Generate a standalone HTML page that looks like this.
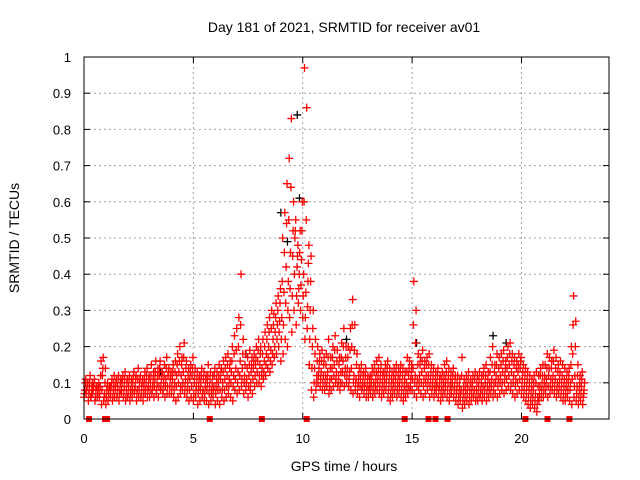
<!DOCTYPE html>
<html><head><meta charset="utf-8"><style>
html,body{margin:0;padding:0;background:#fff}
svg{display:block;font-family:"Liberation Sans",sans-serif}
</style></head><body>
<svg id="chart" width="640" height="480">
<text x="344" y="32" font-size="14" text-anchor="middle">Day 181 of 2021, SRMTID for receiver av01</text>
<text x="0" y="0" font-size="14" text-anchor="middle" transform="translate(19,238) rotate(-90)">SRMTID / TECUs</text>
<text x="344" y="471" font-size="14" text-anchor="middle">GPS time / hours</text>
<g id="grid"></g>
<g id="ticks"></g>
<g id="blk"></g>
<g id="red"></g>
<g id="gaps"></g>
<rect x="84" y="57" width="525" height="362" fill="none" stroke="#000" stroke-width="1"/>
</svg>
<script>
// values in hundredths of TECU, one per 0.1 h starting at 0 h
const stepHours = 0.1;
const loVals = [6,7,5,6,7,5,6,6,4,5, 4,5,6,5,6,6,5,7,6,5, 6,5,6,7,5,6,6,5,7,6, 6,7,6,7,6,8,7,6,7,7, 7,6,5,6,7,8,7,6,5,6, 5,6,4,5,6,5,5,4,5,6, 4,5,4,6,5,6,7,6,5,8, 7,8,9,7,8,6,8,7,9,10, 10,9,11,12,14,13,15,17,18,20, 16,18,22,20,28,24,30,26,32,30, 28,22,25,15,8,6,8,10,9,8, 8,9,7,8,9,10,9,8,10,9, 10,9,8,7,8,7,6,8,7,6, 6,7,6,7,8,7,6,7,8,6, 5,6,7,6,7,6,5,6,7,8, 8,7,6,8,7,6,7,8,6,7, 6,7,6,5,6,7,6,5,7,6, 5,4,5,3,4,5,4,5,6,5, 5,6,5,6,5,6,7,6,7,6, 7,8,7,8,9,8,7,6,7,8, 7,6,5,4,3,4,3,2,5,6, 6,7,6,7,8,7,6,7,6,5, 5,6,5,4,6,5,4,5,4];
const q1Vals = [7,8,7,6,8,6,7,7,8,6, 6,7,7,6,8,7,7,8,7,6, 7,7,8,8,7,8,7,7,8,8, 8,8,9,8,9,9,8,9,9,9, 9,8,9,10,9,10,9,8,8,9, 7,8,7,8,7,7,8,7,7,8, 7,8,8,8,8,9,9,10,9,11, 10,12,11,10,10,9,10,11,12,13, 12,12,13,15,17,16,18,20,22,24, 22,26,32,30,36,34,40,34,36,37, 34,28,31,22,14,10,10,12,11,10, 10,11,9,11,12,11,10,10,13,12, 12,11,14,10,10,9,9,9,9,8, 8,9,8,9,10,9,8,9,10,8, 7,8,9,8,9,8,7,8,9,9, 11,10,9,10,10,9,10,10,9,9, 8,9,8,7,8,9,8,7,9,8, 7,6,7,5,6,7,6,7,7,6, 7,7,7,8,7,8,9,8,10,9, 10,10,10,11,12,10,10,9,10,11, 9,8,7,6,5,6,5,4,7,8, 8,9,9,9,10,9,8,9,8,7, 7,8,8,11,9,7,6,7,6];
const midVals = [8,9,8,7,9,8,8,9,12,7, 8,8,9,8,9,9,8,10,9,8, 9,8,10,9,8,10,9,9,10,9, 10,9,11,10,12,11,10,11,12,11, 11,10,12,13,12,13,11,10,11,12, 10,9,9,10,8,9,10,9,8,9, 9,10,11,10,11,12,11,13,12,14, 13,16,14,12,11,12,13,14,15,16, 15,14,16,18,20,19,22,24,26,27, 28,35,42,38,46,45,50,42,40,44, 40,35,38,30,20,14,12,14,13,12, 12,13,11,14,15,13,12,13,16,14, 14,13,20,12,11,10,11,10,10,9, 9,10,10,11,12,11,10,11,12,10, 9,10,11,10,11,10,9,10,12,11, 14,12,11,12,13,11,12,12,11,10, 9,10,9,9,10,11,10,9,10,9, 8,7,8,7,8,9,8,9,8,8, 9,8,9,10,9,10,11,10,12,11, 12,13,12,14,15,13,12,11,13,14, 11,10,9,8,7,8,7,6,9,10, 10,11,12,11,12,11,10,11,10,9, 9,10,10,18,12,9,8,9,7];
const q3Vals = [10,10,10,9,10,9,9,12,14,10, 9,9,10,10,10,11,10,11,11,10, 11,10,12,11,11,11,10,11,12,11, 12,11,13,12,14,12,12,14,13,12, 13,13,15,16,15,17,14,12,13,14, 12,11,11,12,11,11,12,11,10,12, 11,12,13,13,14,15,14,16,18,19, 20,26,18,15,14,15,15,16,17,19, 18,18,20,22,24,25,26,28,30,32, 38,46,54,55,64,52,52,45,46,52, 60,55,43,38,25,18,16,16,16,15, 15,17,14,17,19,16,15,17,20,17, 17,19,26,19,15,12,13,12,12,11, 11,12,13,13,14,13,12,13,14,12, 11,12,13,12,13,12,11,13,14,13, 26,21,15,15,16,14,15,15,13,12, 11,12,11,11,12,13,12,11,12,11, 10,9,12,9,10,11,10,10,11,10, 11,10,12,12,11,13,15,13,15,14, 15,16,14,17,18,16,15,14,15,16, 13,12,11,10,9,10,10,9,12,12, 12,14,14,14,16,14,13,13,12,11, 11,12,15,26,20,12,10,11,8];
const hiVals = [11,10,12,10,11,9,10,16,17,14, 10,9,11,12,11,12,11,12,13,11, 12,11,13,12,14,12,11,13,14,12, 15,13,16,14,16,13,15,17,14,13, 15,16,18,20,17,21,16,14,15,17, 14,13,12,14,13,12,15,13,12,14, 13,15,14,16,17,18,16,20,23,25, 28,40,22,18,17,19,17,18,20,22, 20,22,24,26,28,30,29,32,34,36, 50,57,65,72,83,60,55,48,52,60, 97,86,48,45,30,22,20,18,19,17, 18,22,17,20,23,19,17,21,25,20, 20,25,33,26,18,14,15,13,14,12, 12,14,15,16,17,15,13,15,16,14, 13,14,15,14,15,14,13,17,16,15, 38,30,18,17,19,16,17,18,15,14, 13,14,12,13,15,16,14,13,14,12, 12,11,17,11,12,13,11,12,13,12, 13,12,14,15,13,17,20,15,18,17, 18,19,16,20,21,18,17,16,18,17, 15,14,13,12,11,12,13,12,14,15, 15,18,17,16,19,17,15,16,15,14, 13,14,20,34,27,15,12,13,10];
const otherTimes = [9.0, 9.75, 9.85, 9.3, 18.7, 19.3, 12.0, 3.5, 15.2, 7.4];
const otherVals = [57, 84, 61, 49, 23, 21, 22, 13, 21, 18];
const gapTimes = [0.23, 0.96, 1.05, 5.75, 8.13, 10.18, 14.66, 15.75, 16.07, 16.62, 20.18, 21.19, 22.19];
const xTicks = [0,5,10,15,20];
const yTicks = [0,10,20,30,40,50,60,70,80,90,100];
const yTickLabels = ["0","0.1","0.2","0.3","0.4","0.5","0.6","0.7","0.8","0.9","1"];

const X0=84,X1=609,Y0=419,Y1=57;
const xs = t => X0 + t/24*(X1-X0);
const ys = v => Y0 - v/100*(Y0-Y1);
const NS="http://www.w3.org/2000/svg";
function mk(tag,attrs,parent){const e=document.createElementNS(NS,tag);for(const k in attrs)e.setAttribute(k,attrs[k]);parent.appendChild(e);return e;}
const grid=document.getElementById('grid'), ticks=document.getElementById('ticks');
xTicks.forEach(t=>{
  const x=xs(t);
  if(t>0){const g=mk('line',{x1:x,x2:x,y1:Y0,y2:Y1,stroke:'#a0a0a0','stroke-dasharray':'2,3'},grid);
  
  }
  mk('line',{x1:x,x2:x,y1:Y0,y2:Y0-6,stroke:'#000'},ticks);
  mk('line',{x1:x,x2:x,y1:Y1,y2:Y1+6,stroke:'#000'},ticks);
  const l=mk('text',{x:x,y:Y0+24,'font-size':13,'text-anchor':'middle'},ticks);
  l.textContent=t;
  
  
});
yTicks.forEach((v,i)=>{
  const y=ys(v);
  if(v>0&&v<100){const g=mk('line',{x1:X0,x2:X1,y1:y,y2:y,stroke:'#a0a0a0','stroke-dasharray':'2,3'},grid);
  
  }
  mk('line',{x1:X0,x2:X0+6,y1:y,y2:y,stroke:'#000'},ticks);
  mk('line',{x1:X1,x2:X1-6,y1:y,y2:y,stroke:'#000'},ticks);
  const l=mk('text',{x:X0-13,y:y+5,'font-size':13,'text-anchor':'end'},ticks);
  l.textContent=yTickLabels[i];
  
  
});
function plus(t,v,col,g){
  const x=xs(t),y=ys(v);
  const p=mk('path',{d:`M${x-4} ${y}H${x+4}M${x} ${y-4}V${y+4}`,stroke:col,'stroke-width':1.3,fill:'none'},g);
  
  
}
const blk=document.getElementById('blk'), red=document.getElementById('red'), gaps=document.getElementById('gaps');
otherTimes.forEach((t,i)=>plus(t,otherVals[i],'#000',blk));
[loVals,q1Vals,midVals,q3Vals,hiVals].forEach((arr,k)=>{
  arr.forEach((v,i)=>plus(i*stepHours+k*stepHours/5,v,'#f00',red));
});
gapTimes.forEach(t=>{
  const r=mk('rect',{x:xs(t)-3,y:Y0-3,width:6,height:6,fill:'#f00'},gaps);
  
  
});
</script>
</body></html>
